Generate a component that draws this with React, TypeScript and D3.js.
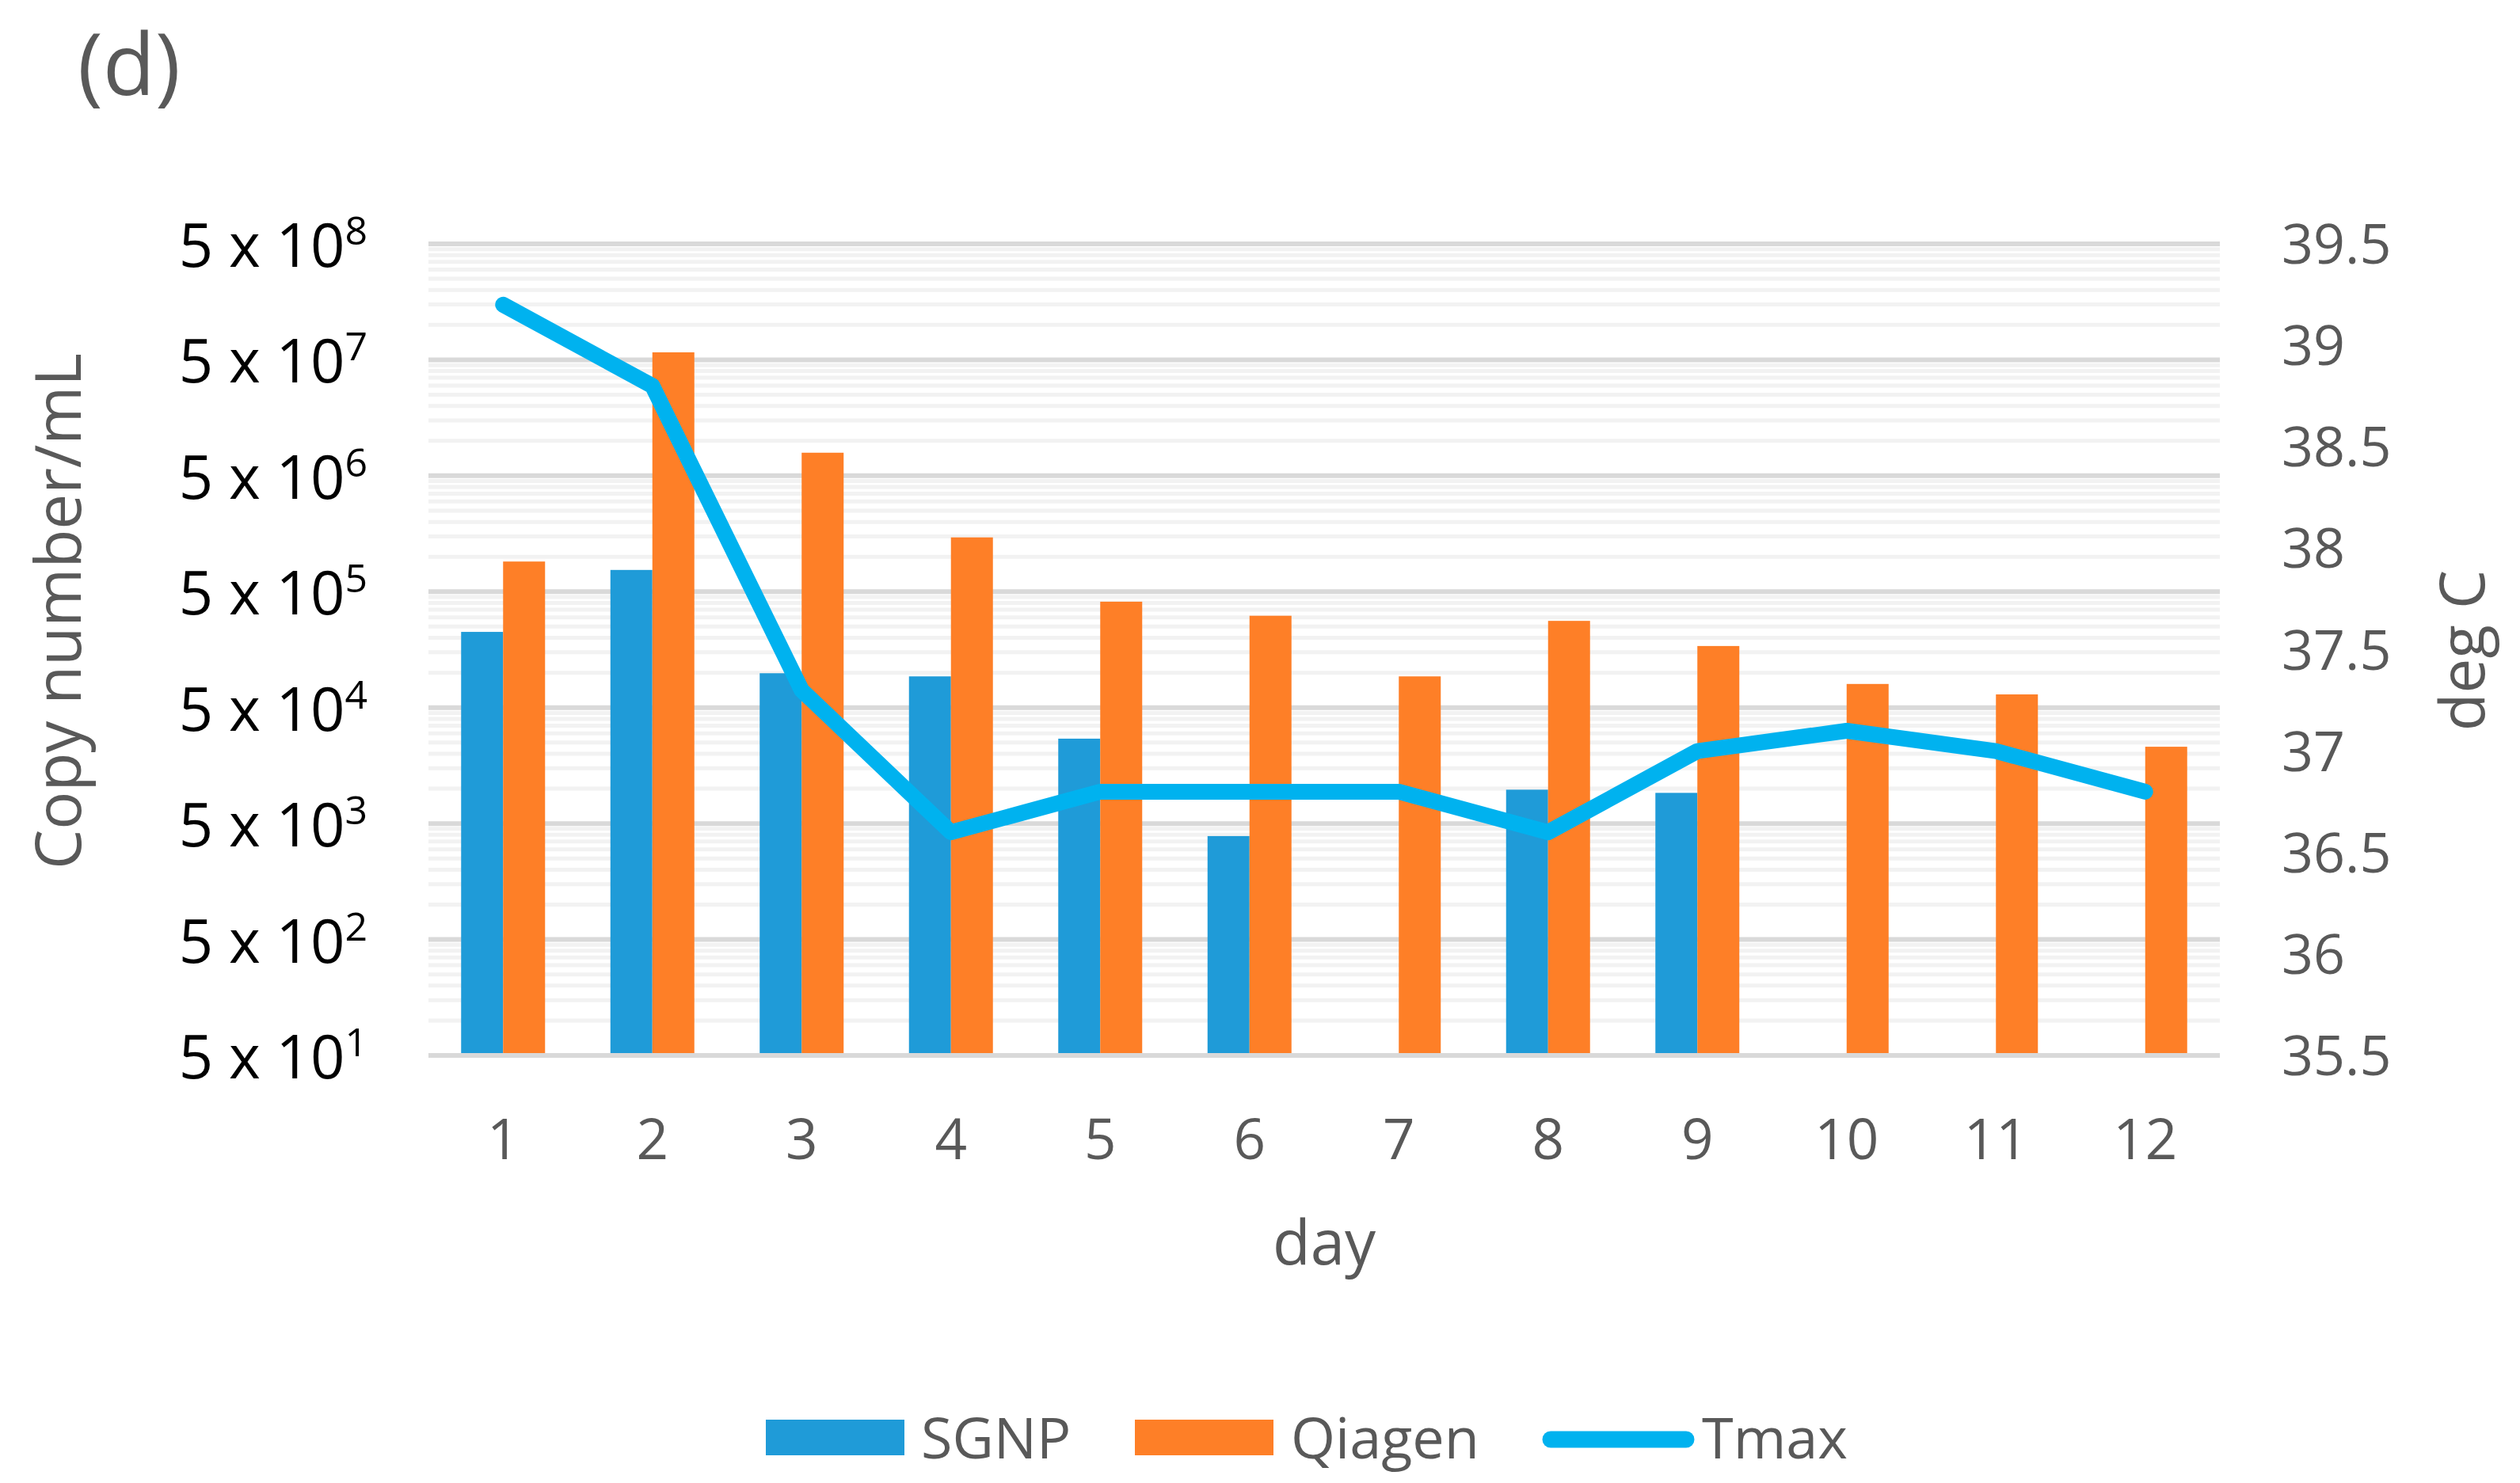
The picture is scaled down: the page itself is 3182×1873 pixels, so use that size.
import React from "react";
import * as d3 from "d3";

const days = ["1", "2", "3", "4", "5", "6", "7", "8", "9", "10", "11", "12"];
const sgnp: (number | null)[] = [2.25e5, 7.7e5, 9.9e4, 9.3e4, 2.7e4, 3.9e3, null, 9.8e3, 9.2e3, null, null, null];
const qiagen: number[] = [9.1e5, 5.8e7, 7.9e6, 1.47e6, 4.1e5, 3.1e5, 9.3e4, 2.8e5, 1.7e5, 8.0e4, 6.5e4, 2.3e4];
const tmax: number[] = [39.2, 38.8, 37.3, 36.6, 36.8, 36.8, 36.8, 36.6, 37.0, 37.1, 37.0, 36.8];
const leftExponents = [1, 2, 3, 4, 5, 6, 7, 8];
const rightTicks = [35.5, 36, 36.5, 37, 37.5, 38, 38.5, 39, 39.5];
const minorMultipliers = [2, 3, 4, 5, 6, 7, 8, 9];
const seriesNames = ["SGNP", "Qiagen", "Tmax"];

const W = 3182;
const H = 1873;
const left = 541;
const right = 2803;
const top = 308;
const bottom = 1333;

const BLUE = "#1f9bd8";
const ORANGE = "#fe7f27";
const LINE = "#00b2ef";
const GRAY = "#595959";
const FONT = "'Open Sans', 'Segoe UI', sans-serif";

export default function App() {
  const x0 = d3.scaleBand<string>().domain(days).range([left, right]).paddingInner(0.4377).paddingOuter(0.21885);
  const x1 = d3.scaleBand<string>().domain(["SGNP", "Qiagen"]).range([0, x0.bandwidth()]).padding(0);
  const yL = d3.scaleLog().domain([50, 5e8]).range([bottom, top]);
  const yR = d3.scaleLinear().domain([35.5, 39.5]).range([bottom, top]);

  const minors: number[] = [];
  for (let e = 1; e <= 7; e++) for (const m of minorMultipliers) minors.push(5 * Math.pow(10, e) * m);
  const majors = leftExponents.map((e) => 5 * Math.pow(10, e));

  const cx = (d: string) => (x0(d) as number) + x0.bandwidth() / 2;
  const line = d3
    .line<number>()
    .x((_, i) => cx(days[i]))
    .y((v) => yR(v));

  return (
    <svg width={W} height={H} style={{ position: "absolute", left: 0, top: 0, background: "#fff" }}>
      <rect x={0} y={0} width={W} height={H} fill="#fff" />
      <text x={98} y={120} fontFamily={FONT} fontSize={108} fill={GRAY}>(d)</text>

      {minors.map((v, i) => (
        <line key={"mn" + i} x1={left} x2={right} y1={yL(v)} y2={yL(v)} stroke="#f2f2f2" strokeWidth={5} />
      ))}
      {majors.map((v, i) => (
        <line key={"mj" + i} x1={left} x2={right} y1={yL(v)} y2={yL(v)} stroke="#d9d9d9" strokeWidth={6} />
      ))}

      {days.map((d, i) => (
        <g key={"b" + d}>
          {sgnp[i] != null && (
            <rect
              x={(x0(d) as number) + (x1("SGNP") as number)}
              y={yL(sgnp[i] as number)}
              width={x1.bandwidth()}
              height={bottom - 3 - yL(sgnp[i] as number)}
              fill={BLUE}
            />
          )}
          <rect
            x={(x0(d) as number) + (x1("Qiagen") as number)}
            y={yL(qiagen[i])}
            width={x1.bandwidth()}
            height={bottom - 3 - yL(qiagen[i])}
            fill={ORANGE}
          />
        </g>
      ))}

      <path d={line(tmax) || ""} fill="none" stroke={LINE} strokeWidth={20} strokeLinejoin="round" strokeLinecap="round" />

      {leftExponents.map((e, i) => (
        <text key={"lt" + i} x={464} y={yL(majors[i]) + 29} textAnchor="end" fontFamily={FONT} fontSize={76} fill="#000">
          5 x 10
          <tspan dy={-28} fontSize={50}>{e}</tspan>
        </text>
      ))}

      {rightTicks.map((t, i) => (
        <text key={"rt" + i} x={2881} y={yR(t) + 25} fontFamily={FONT} fontSize={70} fill={GRAY}>
          {String(t)}
        </text>
      ))}

      {days.map((d) => (
        <text key={"xt" + d} x={cx(d)} y={1464} textAnchor="middle" fontFamily={FONT} fontSize={71} fill={GRAY}>
          {d}
        </text>
      ))}

      <text x={(left + right) / 2} y={1597} textAnchor="middle" fontFamily={FONT} fontSize={78} fill={GRAY}>day</text>
      <text transform={`translate(102,772) rotate(-90)`} textAnchor="middle" fontFamily={FONT} fontSize={80} fill={GRAY}>
        Copy number/mL
      </text>
      <text transform={`translate(3137,${(top + bottom) / 2 + 1}) rotate(-90)`} textAnchor="middle" fontFamily={FONT} fontSize={78} fill={GRAY}>
        deg C
      </text>

      <rect x={967} y={1793} width={175} height={45} fill={BLUE} />
      <text x={1163} y={1842} fontFamily={FONT} fontSize={72} fill={GRAY}>{seriesNames[0]}</text>
      <rect x={1433} y={1793} width={175} height={45} fill={ORANGE} />
      <text x={1630} y={1842} fontFamily={FONT} fontSize={72} fill={GRAY}>{seriesNames[1]}</text>
      <line x1={1958} x2={2129} y1={1818} y2={1818} stroke={LINE} strokeWidth={21} strokeLinecap="round" />
      <text x={2149} y={1842} fontFamily={FONT} fontSize={72} fill={GRAY}>{seriesNames[2]}</text>
    </svg>
  );
}
